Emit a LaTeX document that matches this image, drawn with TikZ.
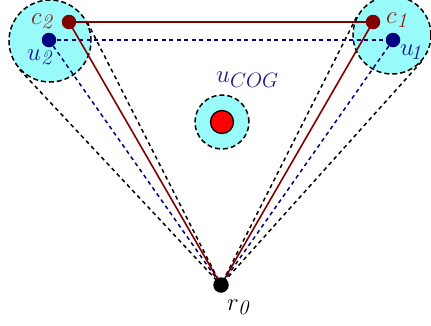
\documentclass[tikz,border=0pt]{standalone}
\usetikzlibrary{calc}
\DeclareMathSizes{24.88}{24.88}{20.74}{17.28}
\definecolor{cfill}{RGB}{153,250,250}
\definecolor{dred}{RGB}{128,0,0}
\definecolor{dblue}{RGB}{0,0,128}
\definecolor{lblred}{RGB}{140,25,25}
\definecolor{lblblue}{RGB}{25,25,140}
\begin{document}
\begin{tikzpicture}[x=1pt,y=-1pt,
  zone/.style={circle,draw=black,fill=cfill,dash pattern=on 5pt off 3pt,line width=1.5pt,inner sep=0pt},
  ptdot/.style={circle,inner sep=0pt,minimum size=14.5pt},
  tanline/.style={draw=black,dash pattern=on 4pt off 3.5pt,line width=1.5pt},
  uline/.style={draw=dblue,dash pattern=on 4pt off 3.5pt,line width=1.5pt},
  cline/.style={draw=dred,line width=1.6pt},
  lbl/.style={inner sep=0pt,anchor=base west,font=\fontsize{24.88}{30}\selectfont}]
\useasboundingbox (0,0) rectangle (431,325);
\node[zone,minimum size=82pt] (L) at (50,41) {};
\node[zone,minimum size=78pt] (R) at (392,35) {};
\node[zone,minimum size=54pt] (G) at (222,122) {};
\node[circle,draw=black,fill=red,line width=1.3pt,minimum size=23pt,inner sep=0pt] (g) at (222,122) {};
\coordinate (r0) at (221,285);
\coordinate (c2) at (69,22);
\coordinate (c1) at (373,22);
\coordinate (u2) at (49,40);
\coordinate (u1) at (393,40);
\draw[tanline] (tangent cs:node=L,point={(r0)},solution=1) -- (r0);
\draw[tanline] (tangent cs:node=L,point={(r0)},solution=2) -- (r0);
\draw[tanline] (tangent cs:node=R,point={(r0)},solution=1) -- (r0);
\draw[tanline] (tangent cs:node=R,point={(r0)},solution=2) -- (r0);
\draw[uline] (u2) -- (u1);
\draw[uline] (u2) -- (r0);
\draw[uline] (u1) -- (r0);
\draw[cline] (c2) -- (c1);
\draw[cline] (c2) -- (r0);
\draw[cline] (c1) -- (r0);
\node[ptdot,fill=dred] (c2d) at (c2) {};
\node[ptdot,fill=dred] (c1d) at (c1) {};
\node[ptdot,fill=dblue] (u2d) at (u2) {};
\node[ptdot,fill=dblue] (u1d) at (u1) {};
\node[ptdot,fill=black,minimum size=15.5pt] (r0d) at (r0) {};
\node[lbl,text=lblred] (lc2) at (31,24) {$c_{\mathit{2}}$};
\node[lbl,text=lblred] (lc1) at (386,23) {$c_{\mathit{1}}$};
\node[lbl,text=lblblue] (lu2) at (27,60) {$u_{\mathit{2}}$};
\node[lbl,text=lblblue] (lu1) at (400,55) {$u_{\!\mathit{1}}$};
\node[lbl,text=lblblue] (lg) at (216,82) {$u_{COG}$};
\node[lbl] (lr0) at (227,310) {$r_{\mathit{0}}$};
\end{tikzpicture}
\end{document}
